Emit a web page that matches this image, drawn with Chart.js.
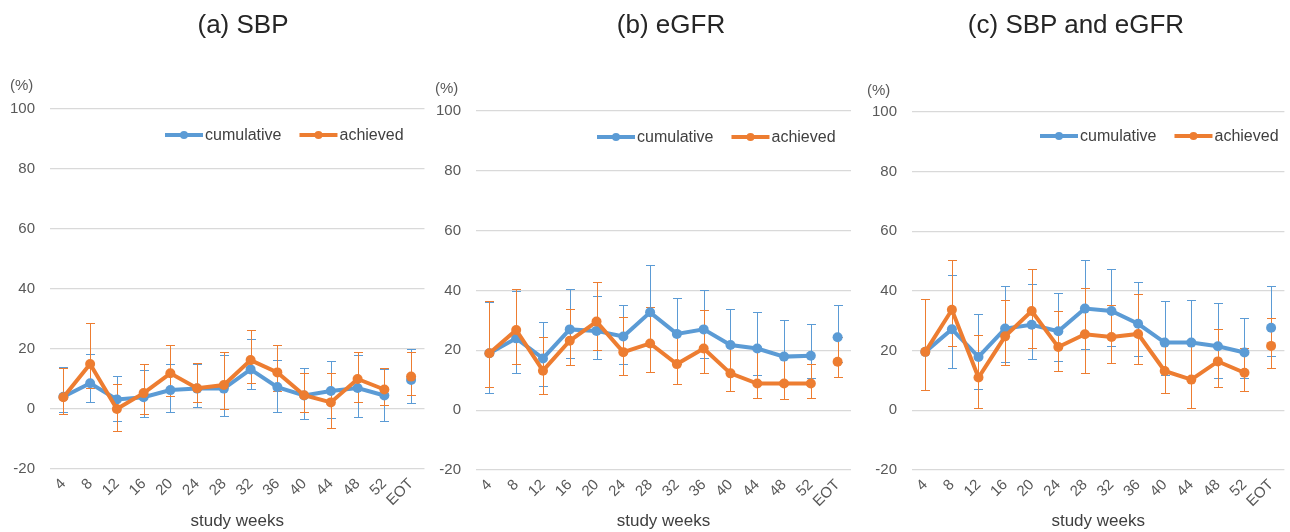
<!DOCTYPE html>
<html>
<head>
<meta charset="utf-8">
<script src="https://cdn.jsdelivr.net/npm/chart.js@4/dist/chart.umd.min.js"></script>
<style>
  body { margin: 0; background: #fff; }
  #wrap { position: relative; width: 1290px; height: 532px; overflow: hidden; font-family: "Liberation Sans", Arial, sans-serif; }
  canvas { position: absolute; top: 0; }
  .title { position: absolute; top: 9px; font-size: 26px; color: #262626; white-space: nowrap; transform: translateX(-50%); }
  .unit { position: absolute; font-size: 15px; color: #595959; }
</style>
</head>
<body>
<div id="wrap">
  <canvas id="chartA" width="430" height="532" style="left:0px"></canvas>
  <canvas id="chartB" width="430" height="532" style="left:430px"></canvas>
  <canvas id="chartC" width="430" height="532" style="left:860px"></canvas>
  <div class="title" style="left:243px">(a) SBP</div>
  <div class="title" style="left:671px">(b) eGFR</div>
  <div class="title" style="left:1076px">(c) SBP and eGFR</div>
  <div class="unit" style="left:10px;top:76px">(%)</div>
  <div class="unit" style="left:435px;top:79px">(%)</div>
  <div class="unit" style="left:867px;top:81px">(%)</div>
</div>
<script>
const weeks = ['4', '8', '12', '16', '20', '24', '28', '32', '36', '40', '44', '48', '52', 'EOT'];
const yTicks = [-20, 0, 20, 40, 60, 80, 100];

// (a) SBP
const sbpCum   = [4.1, 8.6, 3.2, 3.9, 6.3, 6.8, 6.8, 13.2, 7.3, 4.5, 6.0, 7.0, 4.5, 9.7];
const sbpCumLo = [-0.9, 2.4, -4.0, -2.7, -0.9, 0.7, -2.2, 6.6, -0.9, -3.4, -3.1, -2.6, -4.0, 1.9];
const sbpCumHi = [14.1, 18.2, 11.0, 13.0, 15.0, 14.9, 18.0, 23.2, 16.4, 13.6, 16.0, 17.9, 13.4, 20.0];
const sbpAch   = [3.9, 15.0, 0.0, 5.3, 11.9, 6.9, 8.0, 16.3, 12.2, 4.6, 2.2, 10.0, 6.5, 10.8];
const sbpAchLo = [-1.8, 7.0, -7.2, -1.7, 4.5, 2.3, 0.0, 8.7, 6.0, -0.9, -6.3, 2.2, 1.5, 4.6];
const sbpAchHi = [13.8, 28.7, 8.3, 15.0, 21.3, 15.4, 19.1, 26.3, 21.3, 12.0, 11.9, 19.1, 13.6, 19.1];

// (b) eGFR
const egfrCum   = [19.0, 24.0, 17.3, 27.0, 26.5, 24.6, 32.7, 25.5, 27.0, 21.8, 20.6, 17.9, 18.2, 24.4];
const egfrCumLo = [5.9, 12.3, 8.2, 17.3, 17.0, 15.4, 21.5, 15.4, 17.3, 12.3, 11.7, 9.0, 10.9, 16.0];
const egfrCumHi = [36.3, 40.0, 29.6, 40.6, 38.0, 35.1, 48.4, 37.4, 40.1, 33.7, 32.8, 30.2, 28.7, 35.1];
const egfrAch   = [19.0, 26.8, 13.2, 23.2, 29.6, 19.4, 22.3, 15.4, 20.6, 12.3, 8.9, 8.9, 8.9, 16.2];
const egfrAchLo = [7.8, 15.4, 5.4, 15.0, 20.1, 11.8, 12.7, 8.7, 12.3, 6.4, 4.1, 3.6, 4.1, 11.0];
const egfrAchHi = [36.5, 40.6, 24.6, 33.7, 42.9, 31.1, 34.6, 25.5, 33.4, 21.5, 20.5, 17.9, 15.4, 24.5];

// (c) SBP and eGFR
const bothCum   = [19.6, 27.2, 17.9, 27.4, 28.7, 26.5, 34.1, 33.3, 29.0, 22.7, 22.7, 21.5, 19.4, 27.7];
const bothCumLo = [6.7, 14.2, 7.3, 16.2, 17.3, 16.4, 20.6, 21.5, 18.2, 12.0, 10.3, 11.0, 11.0, 18.2];
const bothCumHi = [37.4, 45.3, 32.3, 41.6, 42.5, 39.3, 50.3, 47.5, 42.9, 36.5, 36.9, 36.1, 30.9, 41.6];
const bothAch   = [19.6, 33.7, 11.0, 24.8, 33.3, 21.2, 25.5, 24.6, 25.6, 13.2, 10.3, 16.4, 12.6, 21.6];
const bothAchLo = [6.7, 21.5, 0.8, 15.1, 20.9, 13.2, 12.6, 15.9, 15.4, 5.8, 0.8, 7.8, 6.4, 14.2];
const bothAchHi = [37.4, 50.3, 25.1, 37.1, 47.5, 33.4, 41.1, 35.2, 38.9, 22.7, 22.7, 27.4, 20.9, 30.9];

const BLUE = '#5B9BD5';
const ORANGE = '#ED7D31';
const FONT = '"Liberation Sans", Arial, sans-serif';

Chart.defaults.font.family = FONT;
Chart.defaults.color = '#595959';

// vertical error bars with caps, drawn under the lines
const errorBars = {
    id: 'errorBars',
    beforeDatasetsDraw(chart) {
        const ctx = chart.ctx;
        const y = chart.scales.y;
        chart.data.datasets.forEach((ds, i) => {
            const meta = chart.getDatasetMeta(i);
            ctx.save();
            ctx.strokeStyle = ds.borderColor;
            ctx.lineWidth = 1;
            meta.data.forEach((pt, j) => {
                const x = Math.round(pt.x) + 0.5;  // keep it on the pixel grid so colours don't mix
                const top = Math.round(y.getPixelForValue(ds.errHi[j])) + 0.5;
                const bot = Math.round(y.getPixelForValue(ds.errLo[j])) + 0.5;
                ctx.beginPath();
                ctx.moveTo(x, top);
                ctx.lineTo(x, bot);
                ctx.moveTo(x - 4.5, top);
                ctx.lineTo(x + 4.5, top);
                ctx.moveTo(x - 4.5, bot);
                ctx.lineTo(x + 4.5, bot);
                ctx.stroke();
            });
            ctx.restore();
        });
    }
};

// legend: line with a dot in the middle, then label
const lineLegend = {
    id: 'lineLegend',
    afterDraw(chart, args, opts) {
        const ctx = chart.ctx;
        let x = opts.x;
        const yc = opts.y;
        ctx.save();
        ctx.font = '16px ' + FONT;
        ctx.textBaseline = 'middle';
        chart.data.datasets.forEach(ds => {
            ctx.strokeStyle = ds.borderColor;
            ctx.fillStyle = ds.borderColor;
            ctx.lineWidth = 4;
            ctx.beginPath();
            ctx.moveTo(x, yc);
            ctx.lineTo(x + 38, yc);
            ctx.stroke();
            ctx.beginPath();
            ctx.arc(x + 19, yc, 4, 0, Math.PI * 2);
            ctx.fill();
            ctx.fillStyle = '#404040';
            ctx.fillText(ds.label, x + 40, yc + 1);
            x += 40 + ctx.measureText(ds.label).width + 18;
        });
        ctx.restore();
    }
};

function series(label, color, values, lo, hi, order) {
    const last = values.length - 1;
    return {
        label: label,
        data: values,
        errLo: lo,
        errHi: hi,
        order: order,
        borderColor: color,
        backgroundColor: color,
        borderWidth: 4,
        pointRadius: 5,
        pointBorderWidth: 0,
        pointBackgroundColor: color,
        tension: 0,
        segment: {
            borderColor: c => c.p1DataIndex === last ? 'rgba(0,0,0,0)' : color
        }
    };
}

function makeChart(id, cum, cumLo, cumHi, ach, achLo, achHi, box) {
    new Chart(document.getElementById(id), {
        type: 'line',
        data: {
            labels: weeks,
            datasets: [
                series('cumulative', BLUE, cum, cumLo, cumHi, 1),
                series('achieved', ORANGE, ach, achLo, achHi, 0)
            ]
        },
        plugins: [errorBars, lineLegend],
        options: {
            responsive: false,
            animation: false,
            devicePixelRatio: 1,
            layout: { padding: { top: box.top, right: box.right, left: 0, bottom: 0 } },
            plugins: {
                legend: { display: false },
                tooltip: { enabled: false },
                lineLegend: { x: box.legX, y: box.legY }
            },
            scales: {
                x: {
                    offset: true,
                    grid: { display: false, drawTicks: false },
                    border: { display: false },
                    ticks: { font: { size: 15 }, minRotation: 45, maxRotation: 45, padding: 6, autoSkip: false },
                    title: { display: true, text: 'study weeks', font: { size: 17 }, color: '#404040', padding: { top: 0, bottom: 0 } },
                    afterFit: s => { s.height = 532 - box.bottom; }
                },
                y: {
                    min: -20,
                    max: 100,
                    afterBuildTicks: s => { s.ticks = yTicks.map(v => ({ value: v })); },
                    grid: { color: '#D9D9D9', lineWidth: 1.3, drawTicks: false },
                    border: { display: false },
                    ticks: { font: { size: 15 }, padding: 15 },
                    afterFit: s => { s.width = box.left; }
                }
            }
        }
    });
}

makeChart('chartA', sbpCum, sbpCumLo, sbpCumHi, sbpAch, sbpAchLo, sbpAchHi,
    { left: 50, right: 3, top: 109, bottom: 469, legX: 165, legY: 135 });
makeChart('chartB', egfrCum, egfrCumLo, egfrCumHi, egfrAch, egfrAchLo, egfrAchHi,
    { left: 46, right: 9, top: 111, bottom: 470, legX: 167, legY: 137 });
makeChart('chartC', bothCum, bothCumLo, bothCumHi, bothAch, bothAchLo, bothAchHi,
    { left: 52, right: 2, top: 112, bottom: 470, legX: 180, legY: 136 });
</script>
</body>
</html>
